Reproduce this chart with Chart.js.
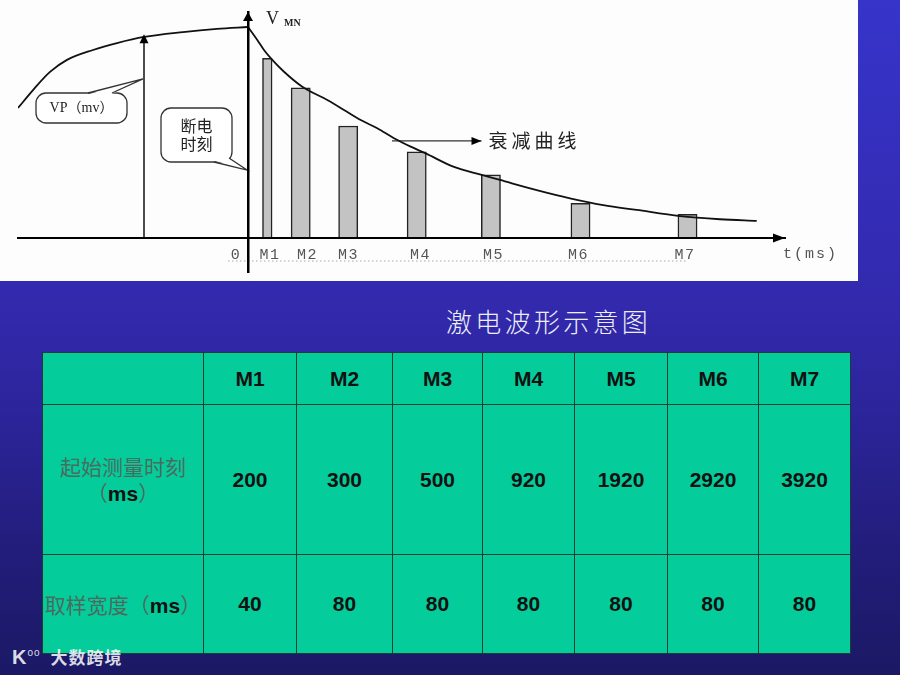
<!DOCTYPE html>
<html>
<head>
<meta charset="utf-8">
<script src="https://cdn.jsdelivr.net/npm/chart.js@4.4.1/dist/chart.umd.min.js"></script>
<style>
  html, body { margin: 0; padding: 0; }
  body {
    width: 900px; height: 675px; overflow: hidden; position: relative;
    background: linear-gradient(180deg, #3634ca 0%, #3229ad 45%, #2b2499 62%, #221d7a 82%, #1b1965 100%);
    font-family: "Liberation Sans", Arial, sans-serif;
  }
  #panel { position: absolute; left: 0; top: 0; width: 858px; height: 281px; background: #fdfdfd; }
  #title {
    position: absolute; left: 446px; top: 302px; line-height: 28px;
    font: 300 26px "Noto Sans CJK SC"; letter-spacing: 3.3px; color: #eeeef8;
  }
  #tbl {
    position: absolute; left: 42px; top: 352px; width: 808px;
    border-collapse: collapse; table-layout: fixed; background: #05cc9b;
  }
  #tbl td {
    border: 1.5px solid #1d3d33; padding: 0; text-align: center;
    font: bold 21px "Liberation Sans", Arial, sans-serif; color: #111;
  }
  #tbl td.head {
    font: 21px "Noto Sans CJK SC"; line-height: 26px; color: #4a6c60; white-space: nowrap;
  }
  #tbl td.head b { font: bold 21px "Liberation Sans", Arial, sans-serif; color: #111; }
  #mark {
    position: absolute; left: 12px; top: 644px; color: rgba(255,255,255,0.85);
    font: bold 17px "Noto Sans CJK SC"; letter-spacing: 1px;
  }
  #mark span { font: bold 20px "Liberation Sans"; margin-right: 10px; }
  #mark sup { font: 10px "Liberation Sans"; }
</style>
</head>
<body>
<div id="panel"><canvas id="wave" width="858" height="281"></canvas></div>
<div id="title">激电波形示意图</div>
<table id="tbl"><colgroup id="cols"></colgroup><tbody id="tblBody"></tbody></table>
<div id="mark"><span>K<sup>oo</sup></span>大数跨境</div>

<script>
// --- Data ---
const sampleNames = ['M1', 'M2', 'M3', 'M4', 'M5', 'M6', 'M7'];
const startTimes = [200, 300, 500, 920, 1920, 2920, 3920];   // ms
const sampleWidths = [40, 80, 80, 80, 80, 80, 80];            // ms

// schematic diagram (not drawn to time scale)
const barCenters = [3.86, 10.54, 20.04, 33.74, 48.58, 66.5, 87.9];
const barHeights = [85.2, 71.2, 53.1, 40.9, 29.9, 16.4, 11.2];

const tickPos = [-2.4, 4.4, 11.9, 20.1, 34.5, 49.1, 66.1, 87.4];
const tickLabels = ['0', 'M1', 'M2', 'M3', 'M4', 'M5', 'M6', 'M7'];

// charging curve (before switch-off)
const chargeT = [-46, -43, -39.6, -36.2, -31, -26.2, -20.8, -13, -6.2, 0];
const chargeV = [61.6, 70.1, 78.7, 84.4, 89.1, 92.4, 95.3, 97.6, 99.1, 100];

// decay curve (after switch-off)
const decayT = [0, 1.86, 3.2, 4.86, 7.2, 10.86, 15.86, 19.2, 22.54, 25.86, 29.2, 32.54, 35.54,
                41.06, 46.74, 50.4, 57.74, 64.4, 71.06, 77.74, 86.4, 94.4, 101.74];
const decayV = [100, 93.8, 89.1, 84.4, 78.8, 71.7, 65.4, 60.7, 55.9, 52.0, 47.3, 43.3, 40.1,
                33.8, 29.9, 27.5, 22.7, 18.8, 15.6, 13.3, 10.4, 8.9, 8.1];

const vpT = -20.8, vpV = 96.5;          // VP arrow
const pointerT = [28.8, 46.7];          // arrow to "衰减曲线"
const pointerV = [46, 46];
const guideT = [-4, 88];                // dotted line under labels
const guideV = [-10.9, -10.9];
const xRange = [-46, 107.4];
const yRange = [-16.1, 107.1];

const pts = (xs, ys) => xs.map((x, i) => ({ x, y: ys[i] }));

// --- Table ---
const colWidths = [161, 93, 96, 90, 92, 93, 91, 92];
document.getElementById('cols').innerHTML = colWidths.map(w => `<col style="width:${w}px">`).join('');
const rows = [
  { h: 52, head: '', cells: sampleNames },
  { h: 150, head: '起始测量时刻<br>（<b>ms</b>）', cells: startTimes },
  { h: 99, head: '取样宽度（<b>ms</b>）', cells: sampleWidths }
];
document.getElementById('tblBody').innerHTML = rows.map(r =>
  `<tr style="height:${r.h}px"><td class="head">${r.head}</td>` +
  r.cells.map(c => `<td>${c}</td>`).join('') + '</tr>'
).join('');

// --- Drawing helpers ---
function arrowHead(ctx, tx, ty, dx, dy, len, half) {
  const bx = tx - dx * len, by = ty - dy * len;
  ctx.beginPath();
  ctx.moveTo(tx, ty);
  ctx.lineTo(bx - dy * half, by + dx * half);
  ctx.lineTo(bx + dy * half, by - dx * half);
  ctx.closePath();
  ctx.fill();
}

function callout(ctx, box, b1, b2, tip, lines, font, lineGap) {
  ctx.beginPath();
  ctx.roundRect(box.x, box.y, box.w, box.h, 10);
  ctx.fillStyle = '#fff';
  ctx.fill();
  ctx.lineWidth = 1.3;
  ctx.strokeStyle = '#333';
  ctx.stroke();
  // tail
  const cx = box.x + box.w / 2, cy = box.y + box.h / 2;
  const inset = p => [p[0] + Math.sign(cx - p[0]) * 2, p[1] + Math.sign(cy - p[1]) * 2];
  const i1 = inset(b1), i2 = inset(b2);
  ctx.beginPath();
  ctx.moveTo(i1[0], i1[1]);
  ctx.lineTo(tip[0], tip[1]);
  ctx.lineTo(i2[0], i2[1]);
  ctx.closePath();
  ctx.fill();
  ctx.beginPath();
  ctx.moveTo(b1[0], b1[1]);
  ctx.lineTo(tip[0], tip[1]);
  ctx.lineTo(b2[0], b2[1]);
  ctx.stroke();
  ctx.fillStyle = '#222';
  ctx.font = font;
  ctx.textAlign = 'center';
  ctx.textBaseline = 'middle';
  const top = cy - (lines.length - 1) * lineGap / 2;
  lines.forEach((t, i) => ctx.fillText(t, cx, top + i * lineGap));
}

const sketch = {
  id: 'sketch',
  beforeDraw(chart) { chart.ctx.letterSpacing = '1.5px'; },
  afterDatasetsDraw(chart) {
    const { ctx, scales: { x, y } } = chart;
    const x0 = x.getPixelForValue(0), y0 = y.getPixelForValue(0);
    ctx.save();
    ctx.letterSpacing = '0px';
    ctx.fillStyle = '#000';

    // arrow heads
    arrowHead(ctx, x.getPixelForValue(xRange[1]), y0, 1, 0, 12, 4.5);
    arrowHead(ctx, x0, y.getPixelForValue(yRange[1]), 0, -1, 9, 5);
    arrowHead(ctx, x.getPixelForValue(vpT), y.getPixelForValue(vpV), 0, -1, 9, 4.5);
    arrowHead(ctx, x.getPixelForValue(pointerT[1]), y.getPixelForValue(pointerV[1]), 1, 0, 10, 4);

    // axis titles
    ctx.fillStyle = '#222';
    ctx.textBaseline = 'alphabetic';
    ctx.textAlign = 'left';
    ctx.font = '18px "Liberation Serif"';
    ctx.fillText('V', x0 + 18, 24);
    ctx.font = 'bold 10px "Liberation Serif"';
    ctx.fillText('MN', x0 + 36, 26);

    ctx.fillStyle = '#555';
    ctx.font = '15px "Liberation Mono"';
    ctx.letterSpacing = '2px';
    ctx.textBaseline = 'middle';
    ctx.fillText('t(ms)', x.getPixelForValue(xRange[1]) - 2, 254);

    ctx.fillStyle = '#222';
    ctx.font = '19px "Noto Sans CJK SC"';
    ctx.letterSpacing = '4px';
    ctx.fillText('衰减曲线', x.getPixelForValue(pointerT[1]) + 7, y.getPixelForValue(pointerV[1]));
    ctx.letterSpacing = '0px';

    // callouts
    const vpX = x.getPixelForValue(vpT), vpTipY = y.getPixelForValue(75.4);
    callout(ctx, { x: 36, y: 93, w: 91, h: 30 }, [88, 93], [112, 93], [vpX - 1, vpTipY],
      ['VP（mv）'], '14px "Liberation Serif", "Noto Sans CJK SC"', 0);
    callout(ctx, { x: 161, y: 108, w: 71, h: 54 }, [214, 162], [229, 158], [x0 - 1, y.getPixelForValue(32.2)],
      ['断电', '时刻'], '16px "Noto Sans CJK SC"', 18);
    ctx.restore();
  },
  afterDraw(chart) { chart.ctx.letterSpacing = '0px'; }
};

// --- Chart ---
const lineStyle = { type: 'line', borderColor: '#111', pointRadius: 0, fill: false };

const barSets = [...new Set(sampleWidths)].map(w => ({
  type: 'bar',
  data: sampleNames
    .map((n, i) => ({ x: barCenters[i], y: barHeights[i], w: sampleWidths[i] }))
    .filter(p => p.w === w),
  barThickness: w * 0.24,
  grouped: false,
  backgroundColor: '#c3c3c3',
  borderColor: '#222',
  borderWidth: 1.5,
  order: 5
}));

new Chart(document.getElementById('wave'), {
  type: 'line',
  data: {
    datasets: [
      { ...lineStyle, data: pts(chargeT, chargeV), borderWidth: 1.8, cubicInterpolationMode: 'monotone', order: 1 },
      { ...lineStyle, data: pts(decayT, decayV), borderWidth: 1.8, cubicInterpolationMode: 'monotone', order: 1 },
      { ...lineStyle, data: [{ x: vpT, y: 0 }, { x: vpT, y: vpV - 2 }], borderWidth: 1.5, tension: 0, order: 2 },
      { ...lineStyle, data: pts(pointerT, pointerV), borderColor: '#333', borderWidth: 1.3, tension: 0, order: 2 },
      { ...lineStyle, data: pts(guideT, guideV), borderColor: '#aaa', borderWidth: 1, borderDash: [1.5, 2.5], tension: 0, order: 3 },
      ...barSets
    ]
  },
  options: {
    responsive: false,
    animation: false,
    events: [],
    layout: { padding: { left: 18, right: 73, top: 12, bottom: 9 } },
    plugins: { legend: { display: false }, tooltip: { enabled: false } },
    scales: {
      x: {
        type: 'linear', min: xRange[0], max: xRange[1], offset: false, bounds: 'data',
        position: { y: 0 },
        grid: { display: false, drawTicks: false, offset: false },
        border: { display: true, color: '#000', width: 2, z: 1 },
        afterBuildTicks: s => { s.ticks = tickPos.map(v => ({ value: v })); },
        ticks: {
          autoSkip: false, maxRotation: 0, padding: 8, color: '#555',
          font: { family: 'Liberation Mono', size: 15 },
          callback: (v, i) => tickLabels[i]
        }
      },
      y: {
        type: 'linear', min: yRange[0], max: yRange[1], bounds: 'data',
        position: { x: 0 },
        grid: { display: false, drawTicks: false },
        border: { display: true, color: '#000', width: 2.5, z: 1 },
        ticks: { display: false }
      }
    }
  },
  plugins: [sketch]
});
</script>
</body>
</html>
